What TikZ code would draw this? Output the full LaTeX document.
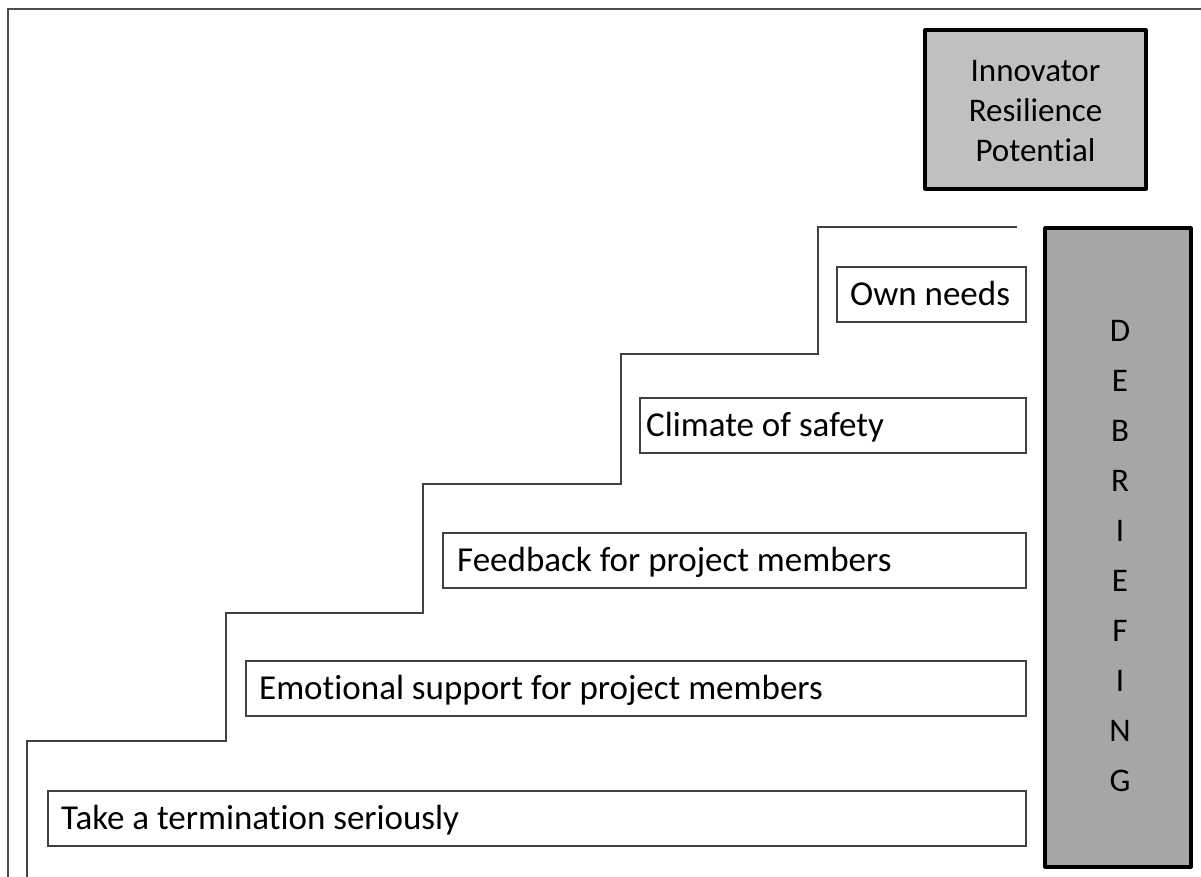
\documentclass[tikz,border=0pt]{standalone}
\usepackage{fontspec}
\setmainfont{Carlito}[Ligatures={NoCommon}]
\begin{document}
\begin{tikzpicture}[x=1pt,y=-1pt,
  lbl/.style={font=\fontsize{35}{40}\selectfont, inner sep=0pt, anchor=base west},
  clbl/.style={font=\fontsize{33}{40}\selectfont, inner sep=0pt, anchor=base},
  stepbox/.style={draw=black!75, line width=1.2pt},
  thickbox/.style={draw=black, line width=3.2pt, line join=round}]
\useasboundingbox (0,0) rectangle (1201,877);
% frame
\coordinate (fbl) at (8,877);
\coordinate (ftl) at (8,9);
\coordinate (ftr) at (1201,9);
\draw[black!70, line width=1.4pt] (fbl) -- (ftl) -- (ftr);
% stairs
\coordinate (s0) at (1017,227);
\coordinate (s9) at (27,877);
\draw[black!75, line width=1.2pt] (s0) -- (818,227) -- (818,354) -- (621,354) -- (621,484) -- (423,484) -- (423,613) -- (226,613) -- (226,741) -- (27,741) -- (s9);
% step boxes
\draw[stepbox] (48,791) rectangle (1026,846);
\node[lbl] (take) at (61,829) {Take a termination seriously};
\draw[stepbox] (246,661) rectangle (1026,716);
\node[lbl] (emo) at (259,699) {Emotional support for project members};
\draw[stepbox] (443,533) rectangle (1026,588);
\node[lbl] (feed) at (457,571.5) {Feedback for project members};
\draw[stepbox] (640,398) rectangle (1026,453);
\node[lbl] (clim) at (646,436) {Climate of safety};
\draw[stepbox] (837,267) rectangle (1026,322);
\node[lbl] (own) at (850,305.5) {Own needs};
% innovator box
\draw[thickbox, fill={rgb,255:red,192;green,192;blue,192}] (925,30) rectangle (1146,189);
\node[clbl] (irp1) at (1035.5,82) {Innovator};
\node[clbl] (irp2) at (1035.5,122) {Resilience};
\node[clbl] (irp3) at (1035.5,162) {Potential};
% debriefing box
\draw[thickbox, fill={rgb,255:red,166;green,166;blue,166}] (1045,228) rectangle (1191,867);
\foreach \l [count=\i from 0] in {D,E,B,R,I,E,F,I,N,G}
  \node[clbl] (deb\i) at (1120,341+50*\i) {\l};
\end{tikzpicture}
\end{document}
